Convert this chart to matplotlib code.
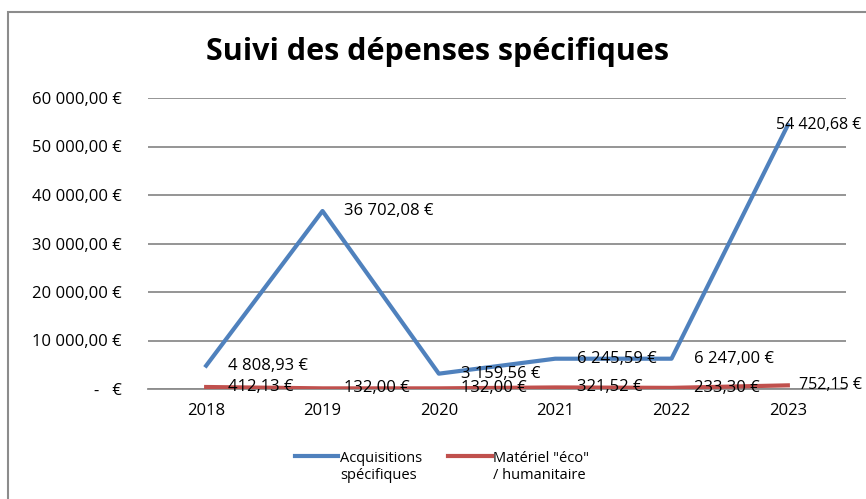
import matplotlib
matplotlib.use('Agg')
import numpy as np
from matplotlib import pyplot as plt
from matplotlib.patches import Rectangle
from matplotlib.legend_handler import HandlerLine2D

years = ['2018', '2019', '2020', '2021', '2022', '2023']
acquisitions = [4808.93, 36702.08, 3159.56, 6245.59, 6247.00, 54420.68]
materiel = [412.13, 132.00, 132.00, 321.52, 233.30, 752.15]
y_ticks = [0, 10000, 20000, 30000, 40000, 50000, 60000]

plt.rcParams['font.family'] = ['Open Sans', 'DejaVu Sans']


def euro(v):
    if v == 0:
        return '-   €'
    s = f'{v:,.2f}'.replace(',', ' ').replace('.', ',')
    return s + ' €'


class TopLine(HandlerLine2D):
    # put the legend line level with the first text line
    def create_artists(self, legend, orig_handle, xdescent, ydescent, width, height, fontsize, trans):
        arts = super().create_artists(legend, orig_handle, xdescent, ydescent, width, height, fontsize, trans)
        for a in arts:
            a.set_ydata(np.asarray(a.get_ydata()) + fontsize * 0.75)
        return arts


fig = plt.figure(figsize=(8.66, 4.99), dpi=100)
# chart frame: only left and top edges are inside the picture
fig.patches.append(Rectangle((8 / 866, -0.05), 1.1, 1.05 - 12 / 499, transform=fig.transFigure,
                             fill=False, edgecolor='#8c8c8c', linewidth=1.5))
ax = fig.add_axes([148 / 866, 110 / 499, 698 / 866, 291 / 499])

x = list(range(len(years)))
l1, = ax.plot(x, acquisitions, color='#4F81BD', linewidth=3, label='Acquisitions\nspécifiques', zorder=3)
l2, = ax.plot(x, materiel, color='#C0504D', linewidth=3, label='Matériel "éco"\n/ humanitaire', zorder=3)

last = len(years) - 1
for series in (acquisitions, materiel):
    for i, v in enumerate(series):
        if i == last:
            # last labels are pushed back inside the chart area
            ax.annotate(euro(v), (i, v), xytext=(74, 0), textcoords='offset pixels',
                        va='center', ha='right', fontsize=11.5, color='black', zorder=4)
        else:
            ax.annotate(euro(v), (i, v), xytext=(22, 0), textcoords='offset pixels',
                        va='center', ha='left', fontsize=12, color='black', zorder=4)

ax.set_xlim(-0.5, len(years) - 0.5)
ax.set_ylim(0, 60000)
ax.set_xticks(x)
ax.set_xticklabels(years)
ax.set_yticks(y_ticks)
ax.set_yticklabels([euro(v) for v in y_ticks])
ax.grid(axis='y', color='#8c8c8c', linewidth=1.3)
ax.set_axisbelow(True)
for s in ['left', 'right', 'top']:
    ax.spines[s].set_visible(False)
ax.spines['bottom'].set_color('#8c8c8c')
ax.spines['bottom'].set_linewidth(1.3)
ax.tick_params(axis='both', length=0, labelsize=12)
ax.tick_params(axis='x', pad=10)
ax.tick_params(axis='y', pad=19)

fig.text(437 / 866, 1 - 52 / 499, 'Suivi des dépenses spécifiques', ha='center', va='center',
         fontsize=22, fontweight='bold')

leg = ax.legend(handles=[l1, l2], loc='center', bbox_to_anchor=(442 / 866, 1 - 467 / 499),
                bbox_transform=fig.transFigure, ncol=2, frameon=False, fontsize=10.5,
                handlelength=3, handletextpad=0.1, columnspacing=1.8,
                handler_map={l1: TopLine(), l2: TopLine()})

fig.savefig('out.png', dpi=100)
